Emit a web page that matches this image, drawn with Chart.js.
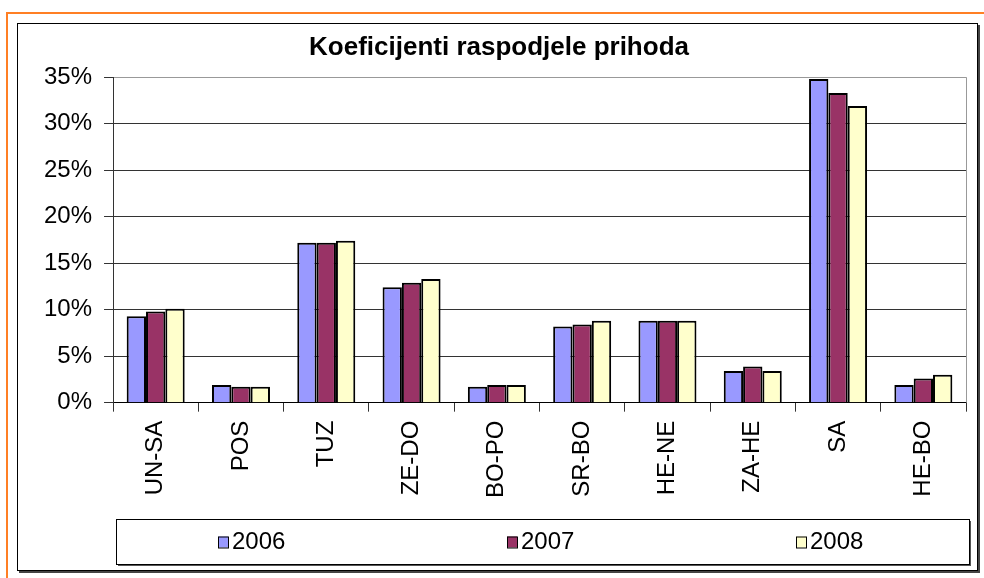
<!DOCTYPE html>
<html>
<head>
<meta charset="utf-8">
<title>Koeficijenti raspodjele prihoda</title>
<script src="https://cdn.jsdelivr.net/npm/chart.js@4.4.0/dist/chart.umd.min.js"></script>
<style>
  html, body { margin: 0; padding: 0; background: #fff; }
  #wrap { width: 984px; height: 578px; }
</style>
</head>
<body>
<div id="wrap"><canvas id="chart" width="984" height="578"></canvas></div>
<script>
// data (percent)
const regions = ['UN-SA', 'POS', 'TUZ', 'ZE-DO', 'BO-PO', 'SR-BO', 'HE-NE', 'ZA-HE', 'SA', 'HE-BO'];
const years = ['2006', '2007', '2008'];
const share2006 = [9.3, 1.9, 17.2, 12.4, 1.7, 8.2, 8.8, 3.4, 34.8, 1.9];
const share2007 = [9.8, 1.7, 17.2, 12.9, 1.9, 8.4, 8.8, 3.9, 33.3, 2.6];
const share2008 = [10.1, 1.7, 17.4, 13.3, 1.9, 8.8, 8.8, 3.4, 31.9, 3.0];
const yMax = 35;
const yStep = 5;

const colors = ['#9999ff', '#993366', '#ffffcc'];
const fontFamily = '"Liberation Sans", Arial, sans-serif';

// page frame, chart frame and plot outline
const framePlugin = {
    id: 'frame',
    beforeDraw(chart) {
        const ctx = chart.ctx;
        ctx.save();
        ctx.fillStyle = '#fff';
        ctx.fillRect(0, 0, chart.width, chart.height);

        // orange page border (left + top)
        ctx.strokeStyle = '#ff7f24';
        ctx.lineWidth = 2;
        ctx.beginPath();
        ctx.moveTo(7, chart.height);
        ctx.lineTo(7, 13);
        ctx.lineTo(chart.width, 13);
        ctx.stroke();

        // chart border with a small shadow
        ctx.fillStyle = '#444';
        ctx.fillRect(19, 25, 961, 548);
        ctx.fillStyle = '#fff';
        ctx.fillRect(17, 23, 961, 548);
        ctx.strokeStyle = '#000';
        ctx.lineWidth = 1;
        ctx.strokeRect(17.5, 23.5, 960, 547);
        ctx.restore();
    },
    beforeDatasetsDraw(chart) {
        const {ctx, chartArea} = chart;
        ctx.save();
        ctx.strokeStyle = '#999';
        ctx.lineWidth = 1;
        ctx.beginPath();
        ctx.moveTo(Math.round(chartArea.right) + 0.5, chartArea.top);
        ctx.lineTo(Math.round(chartArea.right) + 0.5, chartArea.bottom);
        ctx.stroke();
        ctx.restore();
    }
};

// boxed legend at the bottom, like the spreadsheet one
const boxLegendPlugin = {
    id: 'boxLegend',
    afterDraw(chart) {
        const ctx = chart.ctx;
        const box = {x: 116, y: 519, w: 853, h: 45};
        ctx.save();
        ctx.fillStyle = '#555';
        ctx.fillRect(box.x + 2, box.y + 2, box.w, box.h);
        ctx.fillStyle = '#fff';
        ctx.fillRect(box.x, box.y, box.w, box.h);
        ctx.strokeStyle = '#000';
        ctx.lineWidth = 1;
        ctx.strokeRect(box.x + 0.5, box.y + 0.5, box.w, box.h);

        ctx.font = '24px ' + fontFamily;
        ctx.textBaseline = 'middle';
        ctx.textAlign = 'left';
        const midY = box.y + box.h / 2;
        chart.data.datasets.forEach((ds, i) => {
            const x = box.x + 102 + i * 289;
            ctx.fillStyle = ds.backgroundColor;
            ctx.fillRect(x, midY - 5, 10, 11);
            ctx.strokeStyle = '#000';
            ctx.strokeRect(x + 0.5, midY - 5 + 0.5, 10, 11);
            ctx.fillStyle = '#000';
            ctx.fillText(ds.label, x + 14, midY + 1);
        });
        ctx.restore();
    }
};

const ctx = document.getElementById('chart');

new Chart(ctx, {
    type: 'bar',
    data: {
        labels: regions,
        datasets: [
            {label: years[0], data: share2006, backgroundColor: colors[0]},
            {label: years[1], data: share2007, backgroundColor: colors[1]},
            {label: years[2], data: share2008, backgroundColor: colors[2]}
        ]
    },
    options: {
        responsive: false,
        animation: false,
        devicePixelRatio: 1,
        layout: {
            padding: {top: 24, left: 32, right: 18, bottom: 71}
        },
        datasets: {
            bar: {
                borderColor: '#000',
                borderWidth: 2,
                categoryPercentage: 0.68,
                barPercentage: 1.0
            }
        },
        plugins: {
            legend: {display: false},
            tooltip: {enabled: false},
            title: {
                display: true,
                text: 'Koeficijenti raspodjele prihoda',
                color: '#000',
                font: {family: fontFamily, size: 26, weight: 'bold'},
                padding: {top: 8, bottom: 14}
            }
        },
        scales: {
            x: {
                grid: {
                    drawOnChartArea: false,
                    offset: true,
                    tickLength: 9,
                    tickColor: '#333'
                },
                border: {color: '#000', width: 1},
                ticks: {
                    color: '#000',
                    autoSkip: false,
                    maxRotation: 90,
                    minRotation: 90,
                    padding: 9,
                    font: {family: fontFamily, size: 24}
                }
            },
            y: {
                min: 0,
                max: yMax,
                grid: {
                    color: c => (c.tick && c.tick.value === yMax) ? '#999' : '#333',
                    tickColor: '#333',
                    tickLength: 9
                },
                border: {color: '#333', width: 1},
                ticks: {
                    stepSize: yStep,
                    color: '#000',
                    padding: 12,
                    font: {family: fontFamily, size: 24},
                    callback: v => v + '%'
                }
            }
        }
    },
    plugins: [framePlugin, boxLegendPlugin]
});
</script>
</body>
</html>
